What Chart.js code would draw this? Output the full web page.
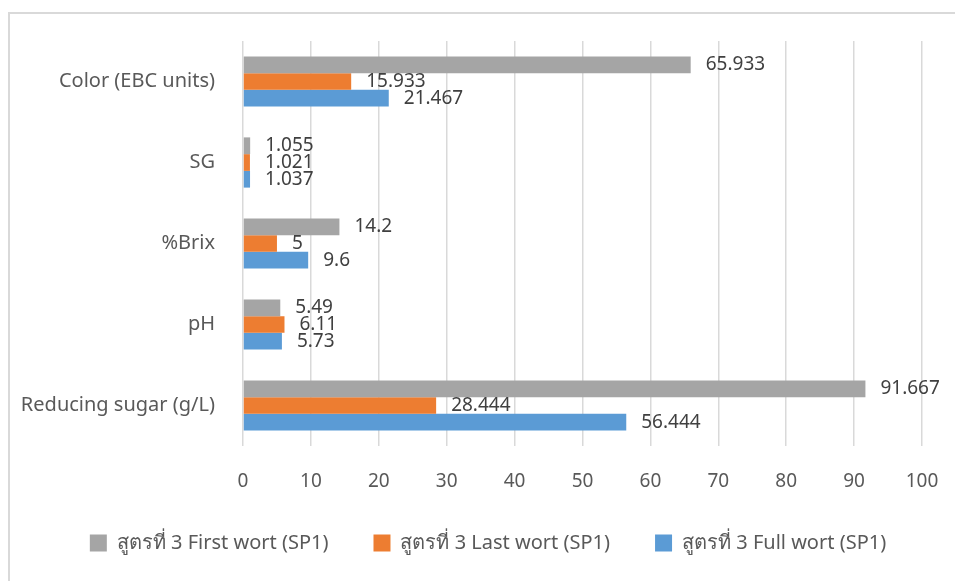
<!DOCTYPE html>
<html lang="th">
<head>
    <meta charset="UTF-8">
    <title>Wort analysis</title>
    <script src="https://cdn.jsdelivr.net/npm/chart.js"></script>
    <style>
        html, body {
            margin: 0;
            padding: 0;
            background: #fff;
            overflow: hidden;
        }
        .frame {
            position: absolute;
            left: 8px;
            top: 12px;
            width: 1000px;
            height: 700px;
            border: 2px solid #d9d9d9;
        }
        .chart-box {
            position: absolute;
            left: 0;
            top: 0;
            width: 955px;
            height: 581px;
        }
    </style>
</head>
<body>
    <div class="frame"></div>
    <div class="chart-box">
        <canvas id="wortChart" width="955" height="581"></canvas>
    </div>

    <script>
        // Parameters measured on each wort sample
        const categories = ['Color (EBC units)', 'SG', '%Brix', 'pH', 'Reducing sugar (g/L)'];
        const seriesNames = ['สูตรที่ 3 First wort (SP1)', 'สูตรที่ 3 Last wort (SP1)', 'สูตรที่ 3 Full wort (SP1)'];
        const firstWort = [65.933, 1.055, 14.2, 5.49, 91.667];
        const lastWort = [15.933, 1.021, 5, 6.11, 28.444];
        const fullWort = [21.467, 1.037, 9.6, 5.73, 56.444];
        const xTicks = [0, 10, 20, 30, 40, 50, 60, 70, 80, 90, 100];

        const colors = ['#A5A5A5', '#ED7D31', '#5B9BD5'];
        const fontFamily = "'Noto Sans', 'DejaVu Sans', sans-serif";

        // Writes each value just past the end of its bar
        const valueLabels = {
            id: 'valueLabels',
            afterDatasetsDraw(chart) {
                const ctx = chart.ctx;
                ctx.save();
                ctx.font = '19px ' + fontFamily;
                ctx.fillStyle = '#404040';
                ctx.textAlign = 'left';
                ctx.textBaseline = 'middle';
                chart.data.datasets.forEach((ds, i) => {
                    const meta = chart.getDatasetMeta(i);
                    meta.data.forEach((bar, j) => {
                        ctx.fillText(String(ds.data[j]), bar.x + 15, bar.y);
                    });
                });
                ctx.restore();
            }
        };

        // Nudge the legend row: a bit right of centre and up toward the axis
        const legendShift = {
            id: 'legendShift',
            afterLayout(chart) {
                const lg = chart.legend;
                lg.left += 27;
                lg.right += 27;
                lg.top -= 8;
                lg.bottom -= 8;
            }
        };

        const seriesData = [firstWort, lastWort, fullWort];
        const datasets = seriesNames.map((name, i) => ({
            label: name,
            data: seriesData[i],
            backgroundColor: colors[i],
            borderWidth: 0,
            barPercentage: 1.0,
            categoryPercentage: 0.62
        }));

        new Chart(document.getElementById('wortChart'), {
            type: 'bar',
            data: { labels: categories, datasets },
            plugins: [valueLabels, legendShift],
            options: {
                indexAxis: 'y',
                responsive: false,
                animation: false,
                layout: {
                    padding: { left: 0, right: 33, top: 41, bottom: 10 }
                },
                scales: {
                    x: {
                        min: 0,
                        max: 100,
                        afterBuildTicks(scale) {
                            scale.ticks = xTicks.map(v => ({ value: v }));
                        },
                        afterFit(scale) {
                            scale.height = 50;
                            scale.paddingLeft = 0;
                            scale.paddingRight = 0;
                        },
                        grid: {
                            color: '#d9d9d9',
                            lineWidth: 1.5,
                            drawTicks: false
                        },
                        border: { display: false },
                        ticks: {
                            padding: 24,
                            color: '#595959',
                            font: { family: fontFamily, size: 19 }
                        }
                    },
                    y: {
                        afterFit(scale) {
                            scale.width = 243;
                        },
                        grid: { display: false, drawTicks: false },
                        border: { display: false },
                        ticks: {
                            padding: 28,
                            color: '#595959',
                            font: { family: fontFamily, size: 20 }
                        }
                    }
                },
                plugins: {
                    tooltip: { enabled: false },
                    legend: {
                        position: 'bottom',
                        labels: {
                            boxWidth: 17,
                            boxHeight: 17,
                            padding: 45,
                            color: '#595959',
                            font: { family: fontFamily, size: 20 }
                        }
                    }
                }
            }
        });
    </script>
</body>
</html>
